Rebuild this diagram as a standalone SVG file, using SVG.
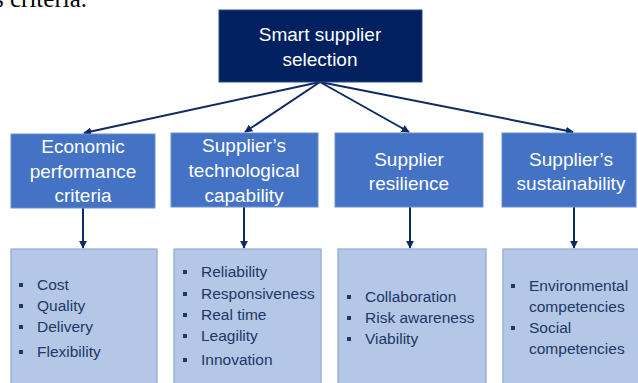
<svg xmlns="http://www.w3.org/2000/svg" width="638" height="383" viewBox="0 0 638 383">
<defs>
<marker id="ah" viewBox="0 0 10 10" refX="9" refY="5" markerWidth="4" markerHeight="4" orient="auto" markerUnits="strokeWidth">
<path d="M0,0 L10,5 L0,10 Z" fill="#0f2a63"/>
</marker>
</defs>
<style>
.top{fill:#002060;stroke:#2a4a8a;stroke-width:1}
.mid{fill:#4472c4;stroke:#6a8fd0;stroke-width:1}
.low{fill:#b4c7e7;stroke:#8ea9d6;stroke-width:1.2}
.ht{font-family:"Liberation Sans",Arial,sans-serif;font-size:19px;fill:#ffffff;text-anchor:middle}
.lt{font-family:"Liberation Sans",Arial,sans-serif;font-size:15.5px;fill:#203864}
.bl{fill:#203864}
.conn{stroke:#0f2a63;stroke-width:2;fill:none;marker-end:url(#ah)}
.cap{font-family:"Liberation Serif","Times New Roman",serif;font-size:25px;fill:#000000}
</style>
<rect width="638" height="383" fill="#ffffff"/>
<text class="cap" x="-6" y="7">s criteria.</text>
<g id="connectors">
<line class="conn" x1="320" y1="82" x2="84" y2="133"/>
<line class="conn" x1="320" y1="82" x2="245" y2="132"/>
<line class="conn" x1="320" y1="82" x2="409" y2="132"/>
<line class="conn" x1="320" y1="82" x2="573" y2="132"/>
<line class="conn" x1="83" y1="208" x2="83" y2="248"/>
<line class="conn" x1="244" y1="207" x2="244" y2="248"/>
<line class="conn" x1="410" y1="207" x2="410" y2="248"/>
<line class="conn" x1="574" y1="207" x2="574" y2="248"/>
</g>
<g id="root">
<rect class="top" x="219" y="10" width="203" height="72"/>
<text class="ht" x="320" y="41">Smart supplier</text>
<text class="ht" x="320" y="66">selection</text>
</g>
<g id="economic">
<rect class="mid" x="11" y="134" width="144" height="74"/>
<text class="ht" x="83" y="153">Economic</text>
<text class="ht" x="83" y="178">performance</text>
<text class="ht" x="83" y="202">criteria</text>
</g>
<g id="technological">
<rect class="mid" x="171" y="133" width="147" height="74"/>
<text class="ht" x="244" y="152">Supplier’s</text>
<text class="ht" x="244" y="177">technological</text>
<text class="ht" x="244" y="202">capability</text>
</g>
<g id="resilience">
<rect class="mid" x="335" y="133" width="148" height="74"/>
<text class="ht" x="409" y="166">Supplier</text>
<text class="ht" x="409" y="190">resilience</text>
</g>
<g id="sustainability">
<rect class="mid" x="502" y="133" width="134" height="74"/>
<text class="ht" x="571" y="166">Supplier’s</text>
<text class="ht" x="571" y="190">sustainability</text>
</g>
<g id="economic-list">
<rect class="low" x="11" y="249" width="146" height="140"/>
<rect class="bl" x="19" y="283" width="4" height="4"/>
<text class="lt" x="37" y="290">Cost</text>
<rect class="bl" x="19" y="304" width="4" height="4"/>
<text class="lt" x="37" y="311">Quality</text>
<rect class="bl" x="19" y="325" width="4" height="4"/>
<text class="lt" x="37" y="332">Delivery</text>
<rect class="bl" x="19" y="350" width="4" height="4"/>
<text class="lt" x="37" y="357">Flexibility</text>
</g>
<g id="technological-list">
<rect class="low" x="174" y="249" width="147" height="140"/>
<rect class="bl" x="183" y="270" width="4" height="4"/>
<text class="lt" x="201" y="277">Reliability</text>
<rect class="bl" x="183" y="292" width="4" height="4"/>
<text class="lt" x="201" y="299">Responsiveness</text>
<rect class="bl" x="183" y="313" width="4" height="4"/>
<text class="lt" x="201" y="320">Real time</text>
<rect class="bl" x="183" y="334" width="4" height="4"/>
<text class="lt" x="201" y="341">Leagility</text>
<rect class="bl" x="183" y="358" width="4" height="4"/>
<text class="lt" x="201" y="365">Innovation</text>
</g>
<g id="resilience-list">
<rect class="low" x="338" y="249" width="148" height="140"/>
<rect class="bl" x="347" y="295" width="4" height="4"/>
<text class="lt" x="365" y="302">Collaboration</text>
<rect class="bl" x="347" y="316" width="4" height="4"/>
<text class="lt" x="365" y="323">Risk awareness</text>
<rect class="bl" x="347" y="337" width="4" height="4"/>
<text class="lt" x="365" y="344">Viability</text>
</g>
<g id="sustainability-list">
<rect class="low" x="503" y="249" width="140" height="140"/>
<rect class="bl" x="511" y="284" width="4" height="4"/>
<text class="lt" x="529" y="291">Environmental</text>
<text class="lt" x="529" y="312">competencies</text>
<rect class="bl" x="511" y="326" width="4" height="4"/>
<text class="lt" x="529" y="333">Social</text>
<text class="lt" x="529" y="354">competencies</text>
</g>
</svg>
